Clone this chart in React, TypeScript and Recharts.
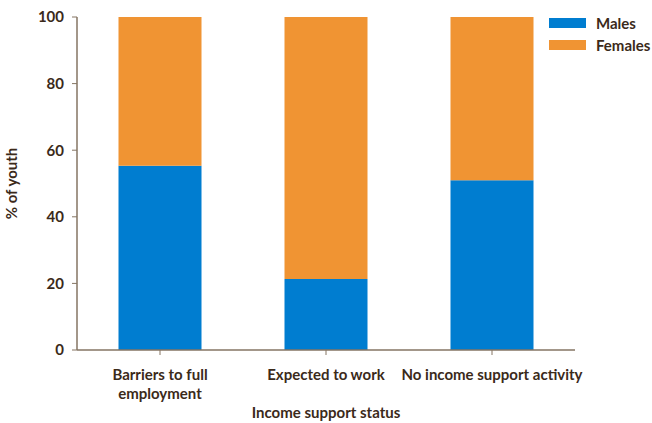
import React from 'react';
import { BarChart, Bar, XAxis, YAxis, Label } from 'recharts';

const categories = ['Barriers to full employment', 'Expected to work', 'No income support activity'];
const males = [55.3, 21.3, 51.0];
const females = [44.7, 78.7, 49.0];
const yTicks = [0, 20, 40, 60, 80, 100];

const data = categories.map((name, i) => ({ name, males: males[i], females: females[i] }));

const TEXT = '#3b2a1a';
const AXIS = '#857563';
const FONT = 'Lato, "Open Sans", sans-serif';
const FS = 15;

const lines: Record<string, string[]> = {
  'Barriers to full employment': ['Barriers to full', 'employment'],
};

const XTick = (props: any) => {
  const { x, y, payload } = props;
  const parts = lines[payload.value] || [payload.value];
  return (
    <g transform={`translate(${x},${y})`}>
      {parts.map((p, i) => (
        <text key={i} x={0} y={23 + i * 19} textAnchor="middle" fill={TEXT} fontSize={FS} fontWeight={700} fontFamily={FONT}>
          {p}
        </text>
      ))}
    </g>
  );
};

const legendItems = [['Males', '#007dd0'], ['Females', '#f09433']];

export default function App() {
  return (
    <div style={{ position: 'absolute', left: 0, top: 0, width: 652, height: 423, background: '#fff' }}>
      <BarChart width={652} height={423} data={data} margin={{ top: 17, right: 77, bottom: 0, left: 0 }} barCategoryGap="25%">
        <XAxis
          dataKey="name"
          height={73}
          tick={<XTick />}
          tickLine={{ stroke: AXIS }}
          axisLine={{ stroke: AXIS, strokeWidth: 1.5 }}
          tickSize={5}
          interval={0}
        >
          <Label value="Income support status" position="insideBottom" offset={5} fill={TEXT} fontSize={FS} fontWeight={700} fontFamily={FONT} />
        </XAxis>
        <YAxis
          width={77}
          domain={[0, 100]}
          ticks={yTicks}
          tick={{ fill: TEXT, fontSize: FS, fontWeight: 700, fontFamily: FONT }}
          tickLine={{ stroke: AXIS }}
          axisLine={{ stroke: AXIS, strokeWidth: 1.5 }}
          tickSize={5}
          tickMargin={8}
        >
          <Label value="% of youth" angle={-90} position="insideLeft" offset={12} fill={TEXT} fontSize={FS} fontWeight={700} fontFamily={FONT} style={{ textAnchor: 'middle' }} />
        </YAxis>
        <Bar dataKey="males" stackId="a" fill="#007dd0" isAnimationActive={false} />
        <Bar dataKey="females" stackId="a" fill="#f09433" isAnimationActive={false} />
      </BarChart>
      <div style={{ position: 'absolute', left: 549, top: 12, fontFamily: FONT, fontWeight: 700, fontSize: FS, color: TEXT }}>
        {legendItems.map(([n, c]) => (
          <div key={n} style={{ display: 'flex', alignItems: 'center', height: 22 }}>
            <span style={{ display: 'inline-block', width: 37, height: 10, background: c, marginRight: 10 }} />
            {n}
          </div>
        ))}
      </div>
    </div>
  );
}
